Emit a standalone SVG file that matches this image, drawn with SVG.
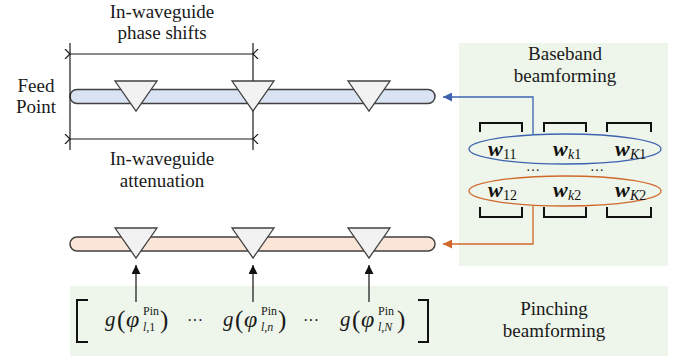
<svg xmlns="http://www.w3.org/2000/svg" width="681" height="362" viewBox="0 0 681 362">
<defs>
<style>
.t{font-family:"Liberation Serif","Times New Roman",serif;font-size:19px;fill:#1a1a1a;text-anchor:middle}
.m{font-family:"Liberation Serif","Times New Roman",serif;fill:#1a1a1a}
.w{font-family:"Liberation Serif","Times New Roman",serif;font-weight:bold;font-style:italic;font-size:22px;fill:#111}
.ws{font-family:"Liberation Serif","Times New Roman",serif;font-size:14px;fill:#111}
.box{fill:#eef5ea;stroke:none}
.wg{stroke:#404040;stroke-width:1.5}
.tri{fill:#f2f2f2;stroke:#404040;stroke-width:1.3}
.dim{stroke:#1a1a1a;stroke-width:1.2;fill:none}
.brk{stroke:#111;stroke-width:2;fill:none}
</style>
<marker id="chev" viewBox="0 0 10 10" refX="1" refY="5" markerWidth="10" markerHeight="10" markerUnits="userSpaceOnUse" orient="auto-start-reverse">
<path d="M6 0 L1 5 L6 10" fill="none" stroke="#1a1a1a" stroke-width="1.2"/>
</marker>
<marker id="ab" viewBox="0 0 10 10" refX="10" refY="5" markerWidth="10" markerHeight="9" markerUnits="userSpaceOnUse" orient="auto">
<path d="M0 0 L10 5 L0 10 Z" fill="#3d63b0"/>
</marker>
<marker id="ao" viewBox="0 0 10 10" refX="10" refY="5" markerWidth="10" markerHeight="9" markerUnits="userSpaceOnUse" orient="auto">
<path d="M0 0 L10 5 L0 10 Z" fill="#d0682a"/>
</marker>
<marker id="ak" viewBox="0 0 10 10" refX="10" refY="5" markerWidth="9" markerHeight="9" markerUnits="userSpaceOnUse" orient="auto">
<path d="M0 0 L10 5 L0 10 Z" fill="#111"/>
</marker>
</defs>

<g id="baseband-box">
<rect class="box" x="459" y="43" width="209" height="223"/>
<text class="t" x="565" y="60">Baseband</text>
<text class="t" x="565" y="82">beamforming</text>
</g>

<g id="pinching-box">
<rect class="box" x="70" y="286" width="598" height="70"/>
<text class="t" x="554" y="315">Pinching</text>
<text class="t" x="554" y="337">beamforming</text>
<path class="brk" d="M88 300 H77 V342 H88"/>
<path class="brk" d="M418 300 H428 V342 H418"/>
<g id="g1">
<text class="m" x="105" y="326" font-size="21" font-style="italic">g</text>
<text class="m" x="117" y="328" font-size="25">(</text>
<text class="m" x="126" y="327" font-size="24" font-style="italic">φ</text>
<text class="m" x="143" y="315" font-size="12">Pin</text>
<text class="m" x="143" y="331" font-size="12"><tspan font-style="italic">l</tspan>,1</text>
<text class="m" x="160" y="328" font-size="25">)</text>
</g>
<g id="g2" transform="translate(118,0)">
<text class="m" x="105" y="326" font-size="21" font-style="italic">g</text>
<text class="m" x="117" y="328" font-size="25">(</text>
<text class="m" x="126" y="327" font-size="24" font-style="italic">φ</text>
<text class="m" x="143" y="315" font-size="12">Pin</text>
<text class="m" x="143" y="331" font-size="12"><tspan font-style="italic">l</tspan>,<tspan font-style="italic">n</tspan></text>
<text class="m" x="160" y="328" font-size="25">)</text>
</g>
<g id="g3" transform="translate(235,0)">
<text class="m" x="105" y="326" font-size="21" font-style="italic">g</text>
<text class="m" x="117" y="328" font-size="25">(</text>
<text class="m" x="126" y="327" font-size="24" font-style="italic">φ</text>
<text class="m" x="143" y="315" font-size="12">Pin</text>
<text class="m" x="143" y="331" font-size="12"><tspan font-style="italic">l</tspan>,<tspan font-style="italic">N</tspan></text>
<text class="m" x="162" y="328" font-size="25">)</text>
</g>
<text class="m" x="195" y="326" font-size="16" text-anchor="middle">···</text>
<text class="m" x="311" y="326" font-size="16" text-anchor="middle">···</text>
</g>

<g id="weights">
<path class="brk" d="M480 132 V123 H522 V132"/>
<path class="brk" d="M544 132 V123 H586 V132"/>
<path class="brk" d="M607 132 V123 H651 V132"/>
<path class="brk" d="M480 207 V217 H522 V207"/>
<path class="brk" d="M544 207 V217 H586 V207"/>
<path class="brk" d="M607 207 V217 H651 V207"/>
<ellipse cx="565" cy="149" rx="96" ry="15" fill="none" stroke="#3d63b0" stroke-width="1.3"/>
<ellipse cx="565" cy="191" rx="96" ry="15" fill="none" stroke="#d0682a" stroke-width="1.3"/>
<text class="w" x="488" y="156">w</text><text class="ws" x="503" y="159">11</text>
<text class="w" x="553" y="156">w</text><text class="ws" x="568" y="159"><tspan font-style="italic">k</tspan>1</text>
<text class="w" x="615" y="156">w</text><text class="ws" x="630" y="159"><tspan font-style="italic">K</tspan>1</text>
<text class="w" x="488" y="197">w</text><text class="ws" x="503" y="200">12</text>
<text class="w" x="553" y="197">w</text><text class="ws" x="568" y="200"><tspan font-style="italic">k</tspan>2</text>
<text class="w" x="615" y="197">w</text><text class="ws" x="630" y="200"><tspan font-style="italic">K</tspan>2</text>
<text class="m" x="533" y="171" font-size="14" text-anchor="middle">…</text>
<text class="m" x="597" y="171" font-size="14" text-anchor="middle">…</text>
</g>

<g id="waveguide-top">
<rect class="wg" x="70" y="89.5" width="365" height="14" rx="7" fill="#dae3f3"/>
</g>
<g id="waveguide-bottom">
<rect class="wg" x="70" y="237" width="365" height="14" rx="7" fill="#fbe5d6"/>
</g>

<g id="dimensions">
<line class="dim" x1="70" y1="43" x2="70" y2="150"/>
<line class="dim" x1="253" y1="43" x2="253" y2="150"/>
<line class="dim" x1="70" y1="54" x2="253" y2="54" marker-start="url(#chev)" marker-end="url(#chev)"/>
<line class="dim" x1="70" y1="139" x2="253" y2="139" marker-start="url(#chev)" marker-end="url(#chev)"/>
<text class="t" x="162" y="18">In-waveguide</text>
<text class="t" x="162" y="39">phase shifts</text>
<text class="t" x="162" y="165">In-waveguide</text>
<text class="t" x="162" y="187">attenuation</text>
<text class="t" x="36" y="92">Feed</text>
<text class="t" x="36" y="113">Point</text>
</g>

<g id="antennas-top">
<path class="tri" d="M115 81 H157 L136 111 Z"/>
<path class="tri" d="M232 81 H274 L253 111 Z"/>
<path class="tri" d="M348 81 H390 L369 111 Z"/>
</g>
<g id="antennas-bottom">
<path class="tri" d="M115 228 H157 L136 258 Z"/>
<path class="tri" d="M232 228 H274 L253 258 Z"/>
<path class="tri" d="M348 228 H390 L369 258 Z"/>
</g>

<g id="connectors">
<path d="M533 134 V97 H443" fill="none" stroke="#3d63b0" stroke-width="1.3" marker-end="url(#ab)"/>
<path d="M533 206 V244 H443" fill="none" stroke="#d0682a" stroke-width="1.3" marker-end="url(#ao)"/>
<line x1="136" y1="302" x2="136" y2="265" stroke="#111" stroke-width="1.2" marker-end="url(#ak)"/>
<line x1="253" y1="302" x2="253" y2="265" stroke="#111" stroke-width="1.2" marker-end="url(#ak)"/>
<line x1="369" y1="302" x2="369" y2="265" stroke="#111" stroke-width="1.2" marker-end="url(#ak)"/>
</g>
</svg>
